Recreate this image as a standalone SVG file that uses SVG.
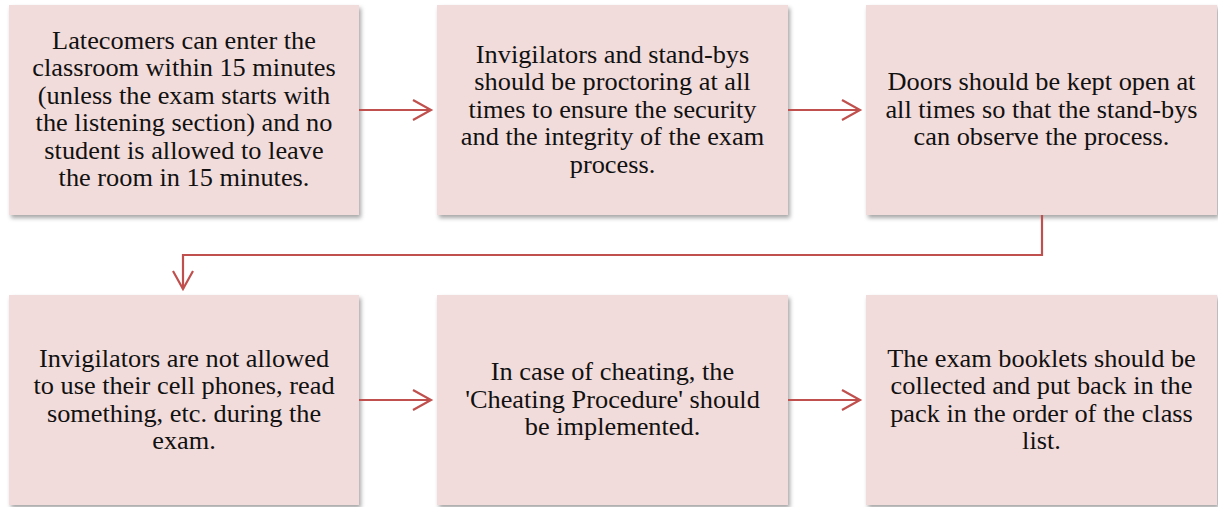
<svg xmlns="http://www.w3.org/2000/svg" width="1218" height="507" viewBox="0 0 1218 507">
<style>
.box{fill:#F2DCDB;filter:url(#sh)}
.t{font-family:"Liberation Serif","Times New Roman",serif;font-size:24.5px;fill:#111;text-anchor:middle}
.c{fill:none;stroke:#C0504D;stroke-width:2.2}
</style>
<defs>
<filter id="sh" x="-5%" y="-5%" width="115%" height="115%">
<feDropShadow dx="2" dy="3" stdDeviation="2" flood-color="#000" flood-opacity="0.35"/>
</filter>
<marker id="ah" markerWidth="22" markerHeight="24" refX="19" refY="12" orient="auto" markerUnits="userSpaceOnUse">
<path d="M1,2 L19,12 L1,22" fill="none" stroke="#C0504D" stroke-width="2.2"/>
</marker>
</defs>
<g id="n1"><rect class="box" x="9" y="5" width="350" height="210"/>
<text class="t" transform="matrix(1.075,0,0,1,184,0)" x="0" y="49">Latecomers can enter the<tspan x="0" dy="27.5">classroom within 15 minutes</tspan><tspan x="0" dy="27.5">(unless the exam starts with</tspan><tspan x="0" dy="27.5">the listening section) and no</tspan><tspan x="0" dy="27.5">student is allowed to leave</tspan><tspan x="0" dy="27.5">the room in 15 minutes.</tspan></text></g>
<g id="n2"><rect class="box" x="437" y="5" width="351" height="210"/>
<text class="t" transform="matrix(1.075,0,0,1,612.5,0)" x="0" y="63">Invigilators and stand-bys<tspan x="0" dy="27.5">should be proctoring at all</tspan><tspan x="0" dy="27.5">times to ensure the security</tspan><tspan x="0" dy="27.5">and the integrity of the exam</tspan><tspan x="0" dy="27.5">process.</tspan></text></g>
<g id="n3"><rect class="box" x="866" y="5" width="351" height="210"/>
<text class="t" transform="matrix(1.075,0,0,1,1041.5,0)" x="0" y="90.5">Doors should be kept open at<tspan x="0" dy="27.5">all times so that the stand-bys</tspan><tspan x="0" dy="27.5">can observe the process.</tspan></text></g>
<g id="n4"><rect class="box" x="9" y="295" width="350" height="210"/>
<text class="t" transform="matrix(1.075,0,0,1,184,0)" x="0" y="367">Invigilators are not allowed<tspan x="0" dy="27.5">to use their cell phones, read</tspan><tspan x="0" dy="27.5">something, etc. during the</tspan><tspan x="0" dy="27.5">exam.</tspan></text></g>
<g id="n5"><rect class="box" x="437" y="295" width="351" height="210"/>
<text class="t" transform="matrix(1.075,0,0,1,612.5,0)" x="0" y="380.5">In case of cheating, the<tspan x="0" dy="27.5">'Cheating Procedure' should</tspan><tspan x="0" dy="27.5">be implemented.</tspan></text></g>
<g id="n6"><rect class="box" x="866" y="295" width="351" height="210"/>
<text class="t" transform="matrix(1.075,0,0,1,1041.5,0)" x="0" y="367">The exam booklets should be<tspan x="0" dy="27.5">collected and put back in the</tspan><tspan x="0" dy="27.5">pack in the order of the class</tspan><tspan x="0" dy="27.5">list.</tspan></text></g>
<g id="connectors">
<path class="c" d="M359,110 H431" marker-end="url(#ah)"/>
<path class="c" d="M788,110 H860" marker-end="url(#ah)"/>
<path class="c" d="M1042,215 V255 H183 V289" marker-end="url(#ah)"/>
<path class="c" d="M359,400 H431" marker-end="url(#ah)"/>
<path class="c" d="M788,400 H860" marker-end="url(#ah)"/>
</g>
</svg>
